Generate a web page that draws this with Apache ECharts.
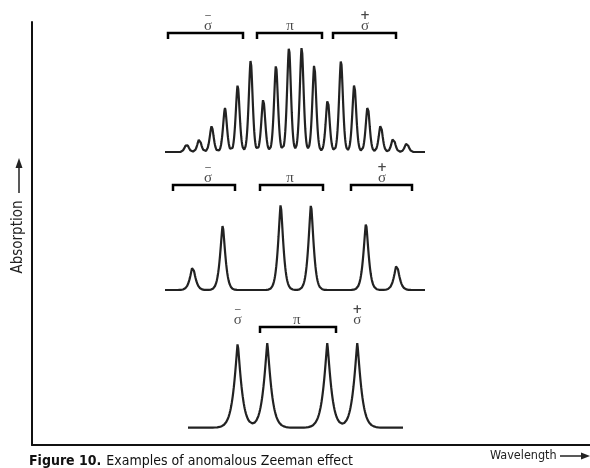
<!DOCTYPE html>
<html>
<head>
<meta charset="utf-8">
<title>Anomalous Zeeman effect</title>
<script src="https://cdn.jsdelivr.net/npm/echarts@6/dist/echarts.min.js"></script>
<style>html,body{margin:0;padding:0;background:#fff}#chart{width:590px;height:468px}</style>
</head>
<body>
<div id="chart"></div>
<script>
// peak centres (wavelength units) and peak heights (absorption units)
var topCentres = [154.7, 167.3, 179.7, 193, 205.7, 218.7, 231.3, 244, 257, 269.7, 282.3, 295.7, 309, 322.3, 335.7, 348.7, 361.3, 374.7];
var topHeights = [8, 13, 26, 44, 67, 92, 53, 87, 105, 105, 88, 53, 92, 68, 46, 27, 14, 9];
var midCentres = [160.7, 190.7, 248.7, 279, 334, 364.7];
var midHeights = [24, 65, 86, 86, 67, 26];
var lowCentres = [205.7, 235.3, 295.3, 325.3];
var lowHeights = [85, 85, 85, 85];

// baselines and x extent of each trace
var baselines = [293, 155, 17.3];
var spans = [[133, 393], [133, 393], [156, 371]];

// component groups: bracket ends [x1, x2] and bracket heights per trace
var topBrackets = [[136, 211], [225, 290], [301, 364]];
var midBrackets = [[141, 203], [228, 291], [319, 380]];
var lowBrackets = [[228, 304]];
var bracketY = [412, 260, 118];

// group labels: x positions per trace
var groupNames = ['sm', 'pi', 'sp'];
var topLabelX = [176, 258, 333];
var midLabelX = [176, 258, 350];
var lowLabelX = [205.7, 264.7, 325.3];
var labelY = [413, 261, 119];

// line shape per trace: [half-width, exponent]
var shapes = [[2.8, 1.7], [3.7, 1.4], [5, 1.2]];

function profile(centres, heights, base, span, shape) {
    var xs = [], pts = [];
    for (var x = span[0]; x <= span[1]; x += 0.25) xs.push(x);
    xs = xs.concat(centres).sort(function(a, b) { return a - b });
    xs.forEach(function(x) {
        var y = base;
        for (var i = 0; i < centres.length; i++) {
            var d = Math.abs(x - centres[i]) / shape[0];
            y += heights[i] * Math.exp(-Math.pow(d, shape[1]));
        }
        pts.push([x, y]);
    });
    return pts;
}

var ink = '#222';
var series = [];
[[topCentres, topHeights], [midCentres, midHeights], [lowCentres, lowHeights]].forEach(function(t, k) {
    series.push({
        type: 'line', data: profile(t[0], t[1], baselines[k], spans[k], shapes[k]),
        showSymbol: false, silent: true, lineStyle: { color: ink, width: 2.2 }
    });
});
[topBrackets, midBrackets, lowBrackets].forEach(function(list, k) {
    list.forEach(function(b) {
        var y = bracketY[k];
        series.push({
            type: 'line', data: [[b[0], y - 6], [b[0], y], [b[1], y], [b[1], y - 6]],
            showSymbol: false, silent: true, lineStyle: { color: '#000', width: 2.5, join: 'miter' }
        });
    });
});
var labelText = { sm: '{bar|\u2212}\n{g|\u03c3}', pi: '{g|\u03c0}', sp: '{plus|+}\n{g|\u03c3}' };
[topLabelX, midLabelX, lowLabelX].forEach(function(xs, k) {
    series.push({
        type: 'scatter', symbolSize: 0, silent: true,
        data: xs.map(function(x, i) { return { value: [x, labelY[k]], name: groupNames[i] } }),
        label: {
            show: true, position: 'inside', verticalAlign: 'bottom', align: 'center',
            formatter: function(p) { return labelText[p.name] },
            rich: {
                bar: { fontFamily: 'DejaVu Sans', fontSize: 9, lineHeight: 8, color: '#1a1a1a' },
                plus: { fontFamily: 'DejaVu Sans', fontSize: 12, fontWeight: 'bold', lineHeight: 8, color: '#1a1a1a' },
                g: { fontFamily: 'Liberation Serif', fontSize: 15, lineHeight: 12, color: '#1a1a1a' }
            }
        }
    });
});

var sans = "'DejaVu Sans Condensed', 'Liberation Sans', sans-serif";
var chart = echarts.init(document.getElementById('chart'));
chart.setOption({
    animation: false,
    title: {
        left: 24, top: 447,
        text: '{b|Figure 10.} {r|Examples of anomalous Zeeman effect}',
        textStyle: {
            rich: {
                b: { fontFamily: sans, fontWeight: 'bold', fontSize: 14, color: '#111' },
                r: { fontFamily: sans, fontWeight: 'normal', fontSize: 14, color: '#111' }
            }
        }
    },
    grid: { left: 32, right: 0, top: 22, bottom: 23 },
    xAxis: {
        type: 'value', min: 0, max: 558,
        axisLine: { lineStyle: { color: '#111', width: 2 } },
        axisTick: { show: false }, axisLabel: { show: false }, splitLine: { show: false }
    },
    yAxis: {
        type: 'value', min: 0, max: 423,
        axisLine: { lineStyle: { color: '#111', width: 2 } },
        axisTick: { show: false }, axisLabel: { show: false }, splitLine: { show: false }
    },
    graphic: [
        { type: 'text', x: 18, y: 237, rotation: Math.PI / 2, style: { text: 'Absorption', font: '15px ' + sans, fill: '#222', align: 'center', verticalAlign: 'middle' } },
        { type: 'line', shape: { x1: 19, y1: 193, x2: 19, y2: 166 }, style: { stroke: '#222', lineWidth: 1.5 } },
        { type: 'polygon', shape: { points: [[19, 158], [15.5, 168], [22.5, 168]] }, style: { fill: '#222' } },
        { type: 'text', x: 490, y: 456, style: { text: 'Wavelength', font: '12.5px ' + sans, fill: '#222', verticalAlign: 'middle' } },
        { type: 'line', shape: { x1: 560, y1: 456, x2: 583, y2: 456 }, style: { stroke: '#222', lineWidth: 1.5 } },
        { type: 'polygon', shape: { points: [[590, 456], [581, 452.5], [581, 459.5]] }, style: { fill: '#222' } }
    ],
    series: series
});
</script>
</body>
</html>
